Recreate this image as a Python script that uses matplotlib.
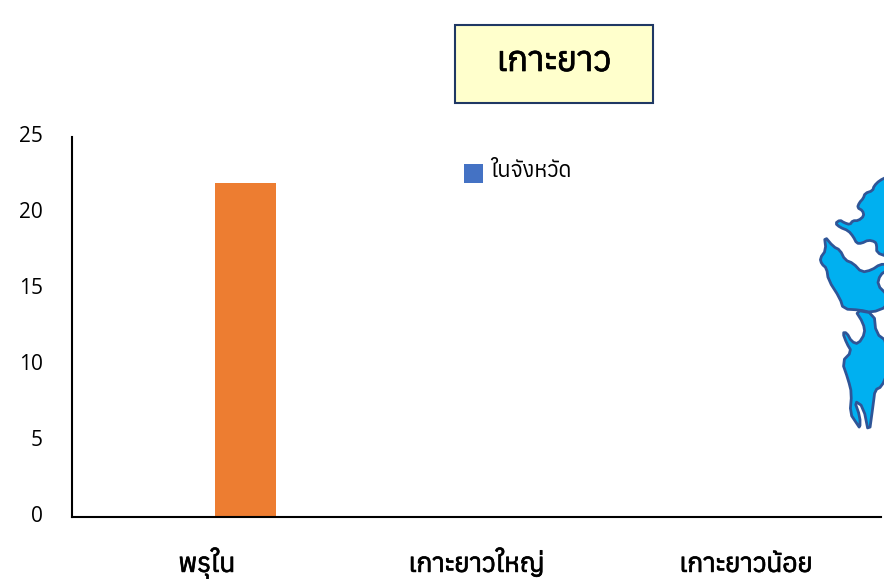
import matplotlib
matplotlib.use("Agg")
import matplotlib.pyplot as plt
import matplotlib.patheffects as pe
from matplotlib import font_manager as fm
from matplotlib.font_manager import get_font
from matplotlib.patches import Polygon, Rectangle
from matplotlib.transforms import ScaledTranslation

categories = ["พรุใน", "เกาะยาวใหญ่", "เกาะยาวน้อย"]
series_province = [0, 0, 0]
series_other = [22, 0, 0]
title_text = "เกาะยาว"
legend_label = "ในจังหวัด"

thai = []
for f in fm.fontManager.ttflist:
    try:
        if 0x0E01 in get_font(f.fname).get_charmap():
            thai.append(f.name)
    except Exception:
        pass
thai = sorted(set(thai))
plt.rcParams["font.family"] = thai + ["Noto Sans", "DejaVu Sans"]

W, H = 884, 579
fig = plt.figure(figsize=(W / 100, H / 100), dpi=100)
ax = fig.add_axes([72 / W, (H - 517) / H, (881 - 72) / W, 380 / H])
x = range(len(categories))
ax.bar([i - 0.142 for i in x], series_province, 0.226, color="#4472C4")
ax.bar([i + 0.142 for i in x], series_other, 0.226, color="#ED7D31")
ax.set_xlim(-0.5, 2.5)
ax.set_ylim(0, 25)
ax.set_yticks([0, 5, 10, 15, 20, 25])
ax.set_xticks(list(x), categories)
ax.tick_params(axis="both", length=0)
ax.tick_params(axis="x", pad=39.5, labelsize=19)
ax.tick_params(axis="y", labelsize=15, pad=21)
bold = [pe.withStroke(linewidth=0.5, foreground="black")]
for label in ax.get_xticklabels():
    label.set_va("baseline")
    label.set_path_effects(bold)
shift_up = ScaledTranslation(0, 2.5 / 100, fig.dpi_scale_trans)
for label in ax.get_yticklabels():
    label.set_family(["Open Sans", "DejaVu Sans"])
    label.set_transform(label.get_transform() + shift_up)
for s in ("top", "right"):
    ax.spines[s].set_visible(False)
for s in ("left", "bottom"):
    ax.spines[s].set_linewidth(1.5)


def px(points):
    return [(a / W, 1 - b / H) for a, b in points]


def zoomed(points):
    return px([(800 + a / 3, 160 + b / 3) for a, b in points])


def smooth(points, rounds=1):
    for _ in range(rounds):
        out = []
        n = len(points)
        for i in range(n):
            (a, b), (c, d) = points[i], points[(i + 1) % n]
            out += [(0.75 * a + 0.25 * c, 0.75 * b + 0.25 * d), (0.25 * a + 0.75 * c, 0.25 * b + 0.75 * d)]
        points = out
    return points


t = fig.transFigure
fig.add_artist(Rectangle((455 / W, 1 - 103 / H), 198 / W, 78 / H, transform=t,
                         facecolor="#FFFFCC", edgecolor="#1F3864", linewidth=1.5))
fig.text(554 / W, 1 - 62 / H, title_text, fontsize=25, ha="center", va="center", path_effects=bold)
fig.add_artist(Rectangle((464 / W, 1 - 183 / H), 19 / W, 19 / H, transform=t,
                         facecolor="#4472C4", edgecolor="none"))
fig.text(490 / W, 1 - 171 / H, legend_label, fontsize=15.8, ha="left", va="center")

island_shapes = [
    [(262, 50), (238, 62), (222, 78), (218, 92), (195, 100), (190, 115), (178, 128), (172, 143), (188, 152),
     (192, 168), (175, 182), (158, 182), (150, 194), (132, 188), (120, 180), (106, 190), (120, 202),
     (145, 212), (160, 230), (170, 250), (185, 250), (205, 240), (225, 245), (230, 255), (230, 278), (262, 290)],
    [(73, 228), (100, 260), (120, 270), (135, 300), (160, 310), (185, 337), (215, 330), (240, 313),
     (262, 313), (262, 330), (240, 345), (232, 375), (262, 405), (262, 440), (215, 458), (180, 450),
     (130, 447), (120, 415), (85, 360), (80, 325), (65, 312), (60, 295), (78, 270)],
    [(165, 450), (190, 490), (195, 520), (175, 552), (155, 545), (140, 518), (128, 518), (140, 550),
     (155, 575), (126, 605), (145, 660), (155, 700), (150, 760), (170, 790), (180, 805), (180, 770),
     (163, 722), (190, 740), (207, 825), (220, 730), (225, 690), (245, 680), (262, 640), (262, 545),
     (228, 520), (222, 460)],
]
for shape in island_shapes:
    fig.add_artist(Polygon(zoomed(smooth(shape)), closed=True, transform=t, facecolor="#00B0F0",
                           edgecolor="#2F5597", linewidth=2, joinstyle="round"))

fig.savefig("out.png", dpi=100)
